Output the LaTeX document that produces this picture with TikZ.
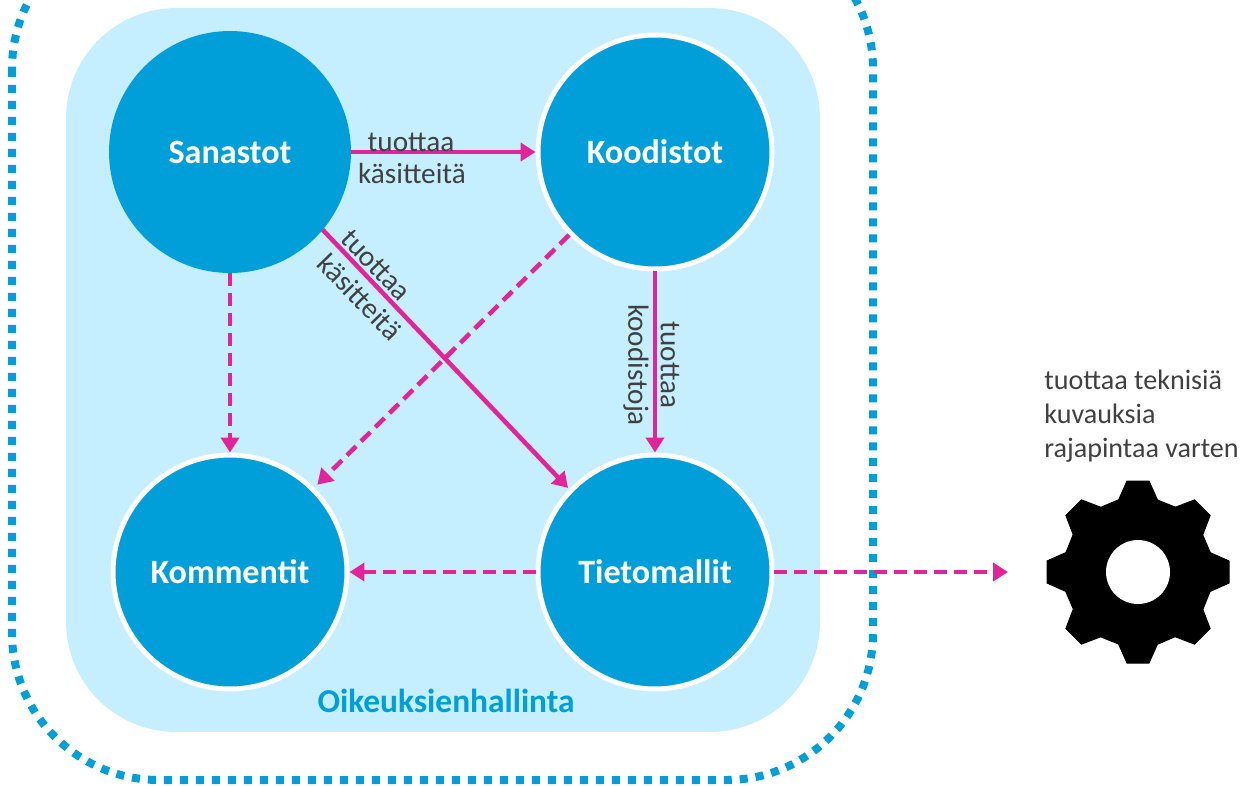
\documentclass[tikz,border=0pt]{standalone}
\usepackage{fontspec}
\setmainfont{Carlito}
\usetikzlibrary{arrows.meta}
\definecolor{circleblue}{HTML}{009FDA}
\definecolor{areablue}{HTML}{C5EEFF}
\definecolor{linkpink}{HTML}{E2249B}
\definecolor{labelgrey}{HTML}{404040}
\tikzset{
	concept/.style={circle, fill=circleblue, text=white, inner sep=0pt, outer sep=0pt, minimum size=4.84cm, font=\fontsize{19.4}{23}\selectfont\bfseries},
	ringed/.style={concept, draw=white, line width=0.1cm, outer sep=0.05cm, minimum size=4.68cm},
	link/.style={draw=linkpink, line width=0.09cm, -{Triangle[length=0.3cm, width=0.36cm]}},
	dashlink/.style={link, dash pattern=on 0.26cm off 0.14cm},
	linklabel/.style={text=labelgrey, inner sep=0pt, font=\fontsize{16.6}{19.3}\selectfont}
}

\begin{document}
\begin{tikzpicture}[x=0.02cm, y=-0.02cm]
\useasboundingbox (0,0) rectangle (1243,785);
\clip (0,0) rectangle (1243,785);

\draw[circleblue, line width=0.16cm, dash pattern=on 0.16cm off 0.16cm, rounded corners=2.94cm] (12,-78) rectangle (873,780);
\node[fill=areablue, rounded corners=2.2cm, minimum width=15.08cm, minimum height=14.48cm, inner sep=0pt] (area) at (443,370) {};
\node[text=circleblue, inner sep=0pt, font=\fontsize{19}{22}\selectfont\bfseries] (areaname) at (446,701) {Oikeuksienhallinta};

\node[concept] (sanastot) at (230,152) {Sanastot};
\node[ringed] (koodistot) at (655,152) {Koodistot};
\node[ringed] (kommentit) at (230,572) {Kommentit};
\node[ringed] (tietomallit) at (655,572) {Tietomallit};

\draw [link] (sanastot) -- (koodistot);
\draw [link, shorten >=0.03cm] (sanastot.-40) -- (tietomallit.136);
\draw [link] (koodistot) -- (tietomallit);
\draw [dashlink] (sanastot) -- (kommentit);
\draw [dashlink, shorten >=0.08cm] (koodistot.224) -- (kommentit.45);
\draw [dashlink] (tietomallit) -- (kommentit);

\node[linklabel] (tuottaa1) at (411,142) {tuottaa};
\node[linklabel] (kasitteita1) at (412,173) {käsitteitä};
\node[linklabel, rotate=-46] (tuottaa2) at (376,265) {tuottaa};
\node[linklabel, rotate=-46] (kasitteita2) at (360,297) {käsitteitä};
\node[linklabel, rotate=-90] (tuottaa3) at (670,365) {tuottaa};
\node[linklabel, rotate=-90] (koodistoja) at (636,365) {koodistoja};

\node[linklabel, align=left, anchor=north west, font=\fontsize{16}{19.3}\selectfont] (rajapinta) at (1044,370) {tuottaa teknisiä\\kuvauksia\\rajapintaa varten};

% hammasratas
\foreach \a in {0,45,...,315}
	\fill[draw=black, line width=0.02cm, rotate around={\a:(1138,572)}] (1138,572) -- (1118.5,500) -- (1127,481) -- (1149,481) -- (1157.5,500) -- (1175,507) -- cycle;
\node[circle, fill=white, minimum size=1.28cm, inner sep=0pt] (gearhole) at (1138,572) {};
\coordinate (gearend) at (1008,572);
\draw [dashlink] (tietomallit) -- (gearend);

\end{tikzpicture}
\end{document}
